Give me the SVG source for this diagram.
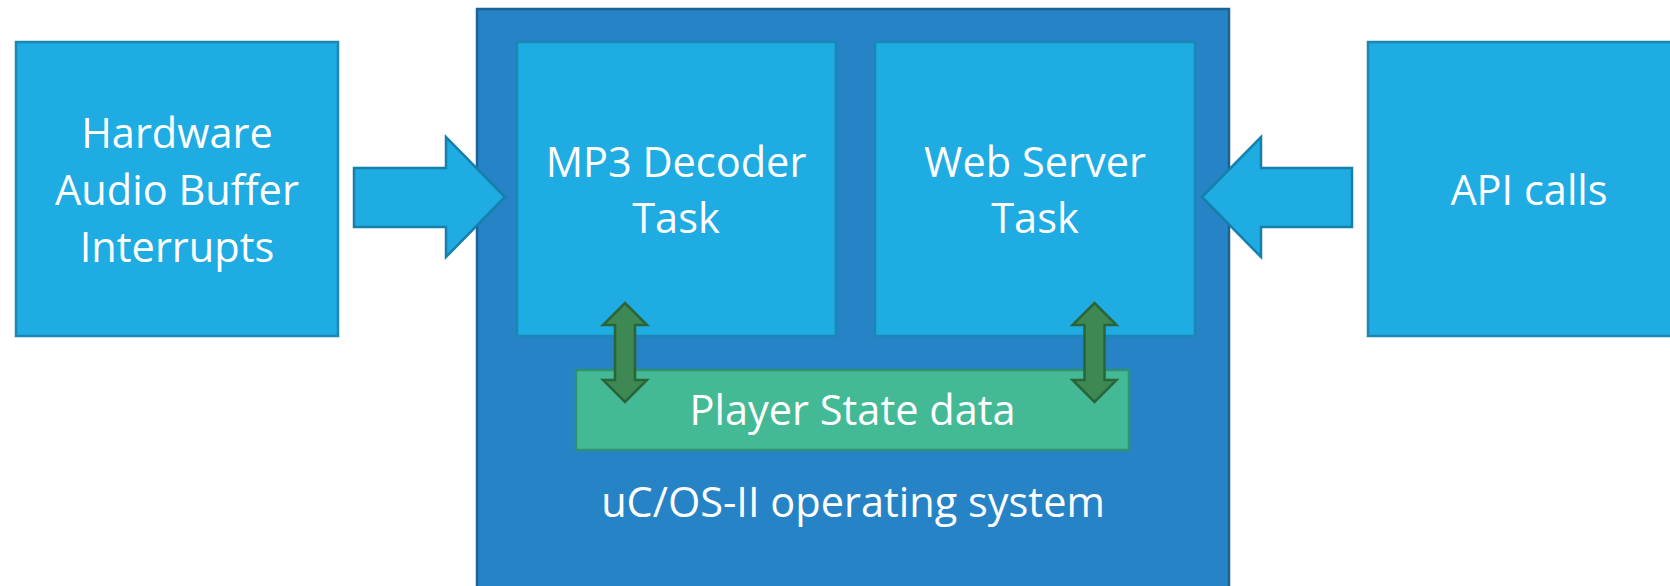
<svg xmlns="http://www.w3.org/2000/svg" width="1670" height="586" viewBox="0 0 1670 586">
<style>
.box{fill:#1EACE2;stroke:#1A87B5;stroke-width:2.5}
.os{fill:#2683C6;stroke:#1D6296;stroke-width:2.5}
.data{fill:#43B995;stroke:#2F9272;stroke-width:2.5}
.flow{fill:#1EACE2;stroke:#1580AC;stroke-width:2.5;stroke-linejoin:miter}
.sync{fill:#3E8853;stroke:#2A653A;stroke-width:2.5;stroke-linejoin:miter}
text{font-family:"Open Sans","Noto Sans",sans-serif;font-size:41.5px;fill:#FFFFFF;text-anchor:middle}
</style>
<rect width="1670" height="586" fill="#FFFFFF"/>
<g id="os">
<rect class="os" x="477" y="9" width="752" height="600"/>
<text x="853" y="517">uC/OS-II operating system</text>
</g>
<g id="mp3">
<rect class="box" x="517" y="42" width="319" height="294"/>
<text x="676" y="177">MP3 Decoder</text>
<text x="676" y="233">Task</text>
</g>
<g id="web">
<rect class="box" x="875" y="42" width="320" height="294"/>
<text x="1035" y="177">Web Server</text>
<text x="1035" y="233">Task</text>
</g>
<g id="state">
<rect class="data" x="576" y="370" width="553" height="80"/>
<text x="852.5" y="425">Player State data</text>
</g>
<g id="hw">
<rect class="box" x="16" y="42" width="322" height="294"/>
<text x="177" y="148">Hardware</text>
<text x="177" y="205">Audio Buffer</text>
<text x="177" y="262">Interrupts</text>
</g>
<g id="api">
<rect class="box" x="1368" y="42" width="330" height="294"/>
<text x="1529" y="205">API calls</text>
</g>
<g id="connectors">
<polygon class="flow" points="354,168 446,168 446,137 505,197 446,257 446,227 354,227"/>
<polygon class="flow" points="1352,168 1261,168 1261,137 1202,197 1261,257 1261,227 1352,227"/>
<polygon class="sync" points="625,303 647,325 635,325 635,380 647,380 625,402 603,380 615,380 615,325 603,325"/>
<polygon class="sync" points="1094.5,303 1116.5,325 1104.5,325 1104.5,380 1116.5,380 1094.5,402 1072.5,380 1084.5,380 1084.5,325 1072.5,325"/>
</g>
</svg>
